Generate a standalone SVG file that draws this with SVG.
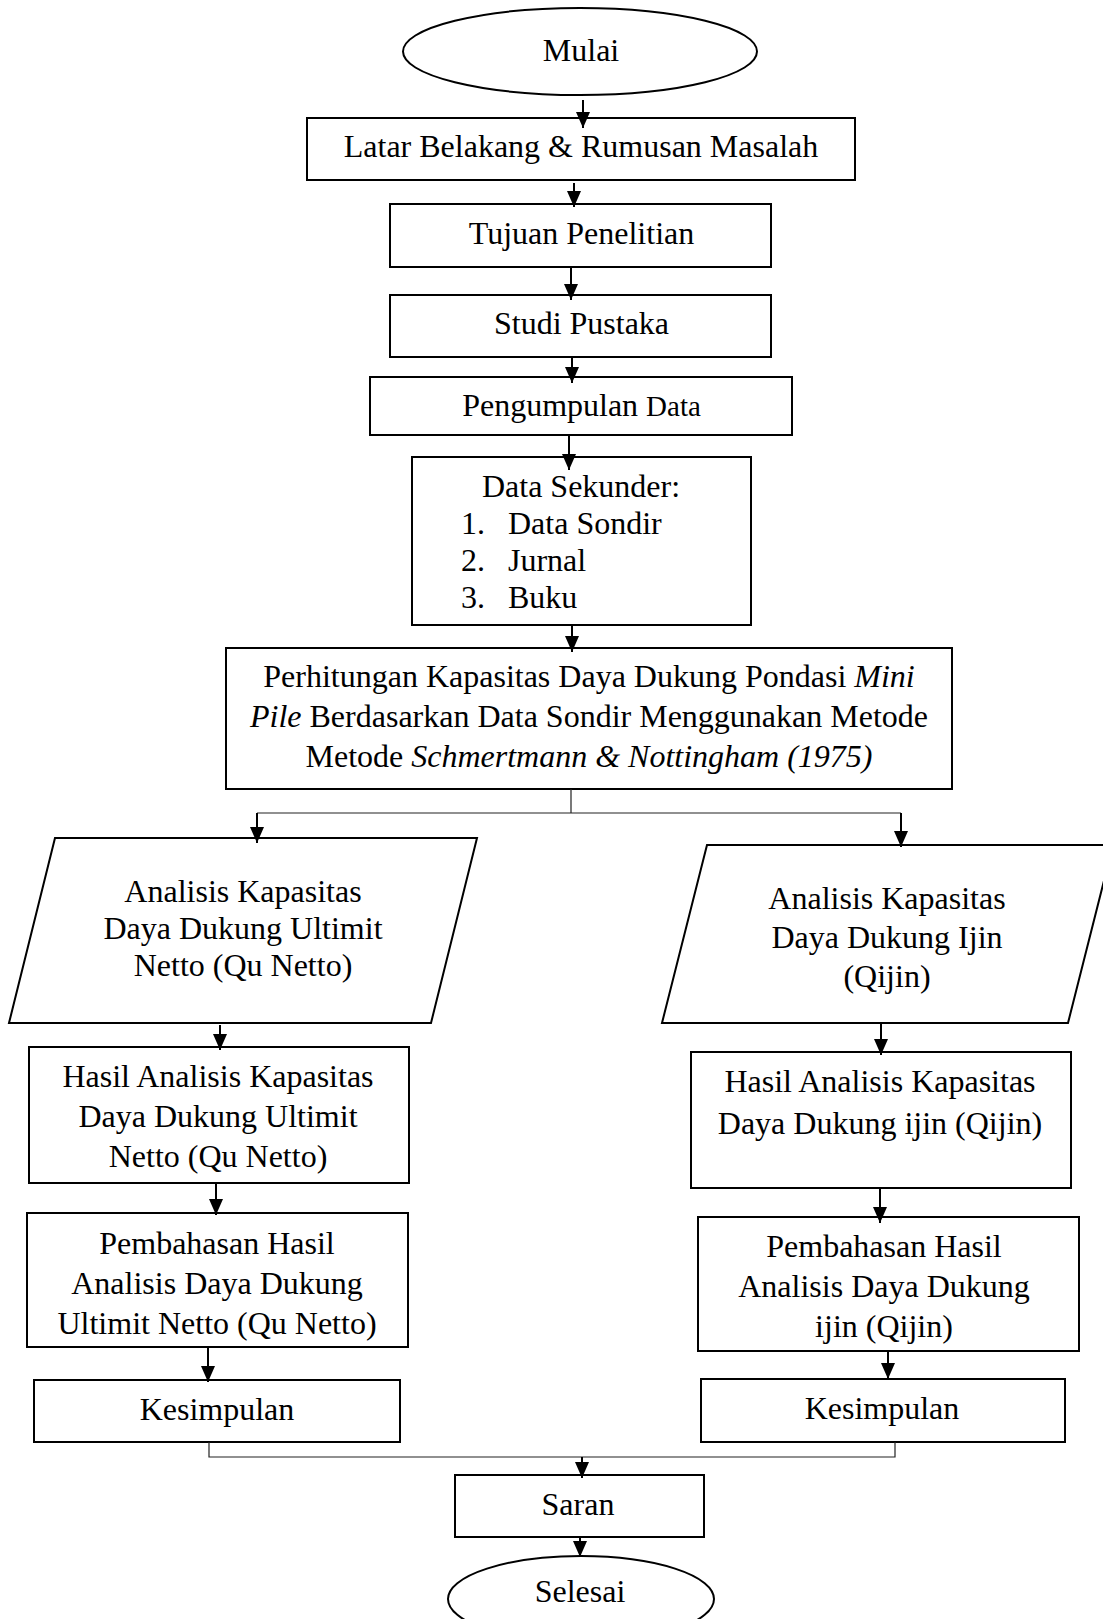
<svg xmlns="http://www.w3.org/2000/svg" width="1103" height="1619" viewBox="0 0 1103 1619">
<style>
.s{fill:#fff;stroke:#000;stroke-width:2}
.t{font-family:"Liberation Serif","Times New Roman",serif;font-size:32px;fill:#000;text-anchor:middle}
.l{text-anchor:start}
.a{fill:none;stroke:#000;stroke-width:2}
.th{fill:none;stroke:#222;stroke-width:1.2}
</style>
<defs>
<marker id="ah" viewBox="0 0 16 14" refX="16" refY="7" markerWidth="16" markerHeight="14" markerUnits="userSpaceOnUse" orient="auto">
<path d="M0,0 L16,7 L0,14 z" fill="#000"/>
</marker>
</defs>
<rect width="1103" height="1619" fill="#fff"/>
<g id="nodes">
<g id="mulai"><ellipse class="s" cx="580" cy="51.5" rx="177" ry="43.5"/><text class="t" x="581" y="61">Mulai</text></g>
<g id="latar"><rect class="s" x="307" y="118" width="548" height="62"/><text class="t" x="581" y="157">Latar Belakang &amp; Rumusan Masalah</text></g>
<g id="tujuan"><rect class="s" x="390" y="204" width="381" height="63"/><text class="t" x="581.5" y="244">Tujuan Penelitian</text></g>
<g id="studi"><rect class="s" x="390" y="295" width="381" height="62"/><text class="t" x="581.5" y="334">Studi Pustaka</text></g>
<g id="pengumpulan"><rect class="s" x="370" y="377" width="422" height="58"/><text class="t" x="581.5" y="416">Pengumpulan <tspan font-size="29">Data</tspan></text></g>
<g id="sekunder"><rect class="s" x="412" y="457" width="339" height="168"/>
<text class="t" x="581" y="497">Data Sekunder:</text>
<text class="t l" x="461" y="534">1.</text><text class="t l" x="508" y="534">Data Sondir</text>
<text class="t l" x="461" y="571">2.</text><text class="t l" x="508" y="571">Jurnal</text>
<text class="t l" x="461" y="608">3.</text><text class="t l" x="508" y="608">Buku</text></g>
<g id="perhitungan"><rect class="s" x="226" y="648" width="726" height="141"/>
<text class="t" x="589" y="687">Perhitungan Kapasitas Daya Dukung Pondasi <tspan font-style="italic">Mini</tspan></text>
<text class="t" x="589" y="727"><tspan font-style="italic">Pile</tspan> Berdasarkan Data Sondir Menggunakan Metode</text>
<text class="t" x="589" y="767">Metode <tspan font-style="italic">Schmertmann &amp; Nottingham (1975)</tspan></text></g>
<g id="analisis-qu"><polygon class="s" points="55,838 477,838 431,1023 9,1023"/>
<text class="t" x="243" y="902">Analisis Kapasitas</text>
<text class="t" x="243" y="939">Daya Dukung Ultimit</text>
<text class="t" x="243" y="976">Netto (Qu Netto)</text></g>
<g id="analisis-qijin"><polygon class="s" points="707,845 1113,845 1068,1023 662,1023"/>
<text class="t" x="887" y="909">Analisis Kapasitas</text>
<text class="t" x="887" y="948">Daya Dukung Ijin</text>
<text class="t" x="887" y="987">(Qijin)</text></g>
<g id="hasil-qu"><rect class="s" x="29" y="1047" width="380" height="136"/>
<text class="t" x="218" y="1087">Hasil Analisis Kapasitas</text>
<text class="t" x="218" y="1127">Daya Dukung Ultimit</text>
<text class="t" x="218" y="1167">Netto (Qu Netto)</text></g>
<g id="hasil-qijin"><rect class="s" x="691" y="1052" width="380" height="136"/>
<text class="t" x="880" y="1092">Hasil Analisis Kapasitas</text>
<text class="t" x="880" y="1134">Daya Dukung ijin (Qijin)</text></g>
<g id="pembahasan-qu"><rect class="s" x="27" y="1213" width="381" height="134"/>
<text class="t" x="217" y="1254">Pembahasan Hasil</text>
<text class="t" x="217" y="1294">Analisis Daya Dukung</text>
<text class="t" x="217" y="1334">Ultimit Netto (Qu Netto)</text></g>
<g id="pembahasan-qijin"><rect class="s" x="698" y="1217" width="381" height="134"/>
<text class="t" x="884" y="1257">Pembahasan Hasil</text>
<text class="t" x="884" y="1297">Analisis Daya Dukung</text>
<text class="t" x="884" y="1337">ijin (Qijin)</text></g>
<g id="kesimpulan-qu"><rect class="s" x="34" y="1380" width="366" height="62"/><text class="t" x="217" y="1420">Kesimpulan</text></g>
<g id="kesimpulan-qijin"><rect class="s" x="701" y="1379" width="364" height="63"/><text class="t" x="882" y="1419">Kesimpulan</text></g>
<g id="saran"><rect class="s" x="455" y="1475" width="249" height="62"/><text class="t" x="578" y="1515">Saran</text></g>
<g id="selesai"><ellipse class="s" cx="581" cy="1599" rx="133" ry="43"/><text class="t" x="580" y="1602">Selesai</text></g>
</g>
<g id="connectors">
<path class="a" d="M583,100 V128" marker-end="url(#ah)"/>
<path class="a" d="M574,183 V207" marker-end="url(#ah)"/>
<path class="a" d="M571,267 V300" marker-end="url(#ah)"/>
<path class="a" d="M572,357 V383" marker-end="url(#ah)"/>
<path class="a" d="M569,435 V470" marker-end="url(#ah)"/>
<path class="a" d="M572,625 V652" marker-end="url(#ah)"/>
<path class="th" d="M571,789 V813 M257,813 H901"/>
<path class="a" d="M257,813 V843" marker-end="url(#ah)"/>
<path class="a" d="M901,813 V847" marker-end="url(#ah)"/>
<path class="a" d="M220,1025 V1050" marker-end="url(#ah)"/>
<path class="a" d="M881,1023 V1055" marker-end="url(#ah)"/>
<path class="a" d="M216,1183 V1215" marker-end="url(#ah)"/>
<path class="a" d="M880,1188 V1223" marker-end="url(#ah)"/>
<path class="a" d="M208,1347 V1382" marker-end="url(#ah)"/>
<path class="a" d="M888,1351 V1379" marker-end="url(#ah)"/>
<path class="th" d="M209,1442 V1457 H895 V1442"/>
<path class="a" d="M582,1457 V1478" marker-end="url(#ah)"/>
<path class="a" d="M580,1537 V1557" marker-end="url(#ah)"/>
</g>
</svg>
